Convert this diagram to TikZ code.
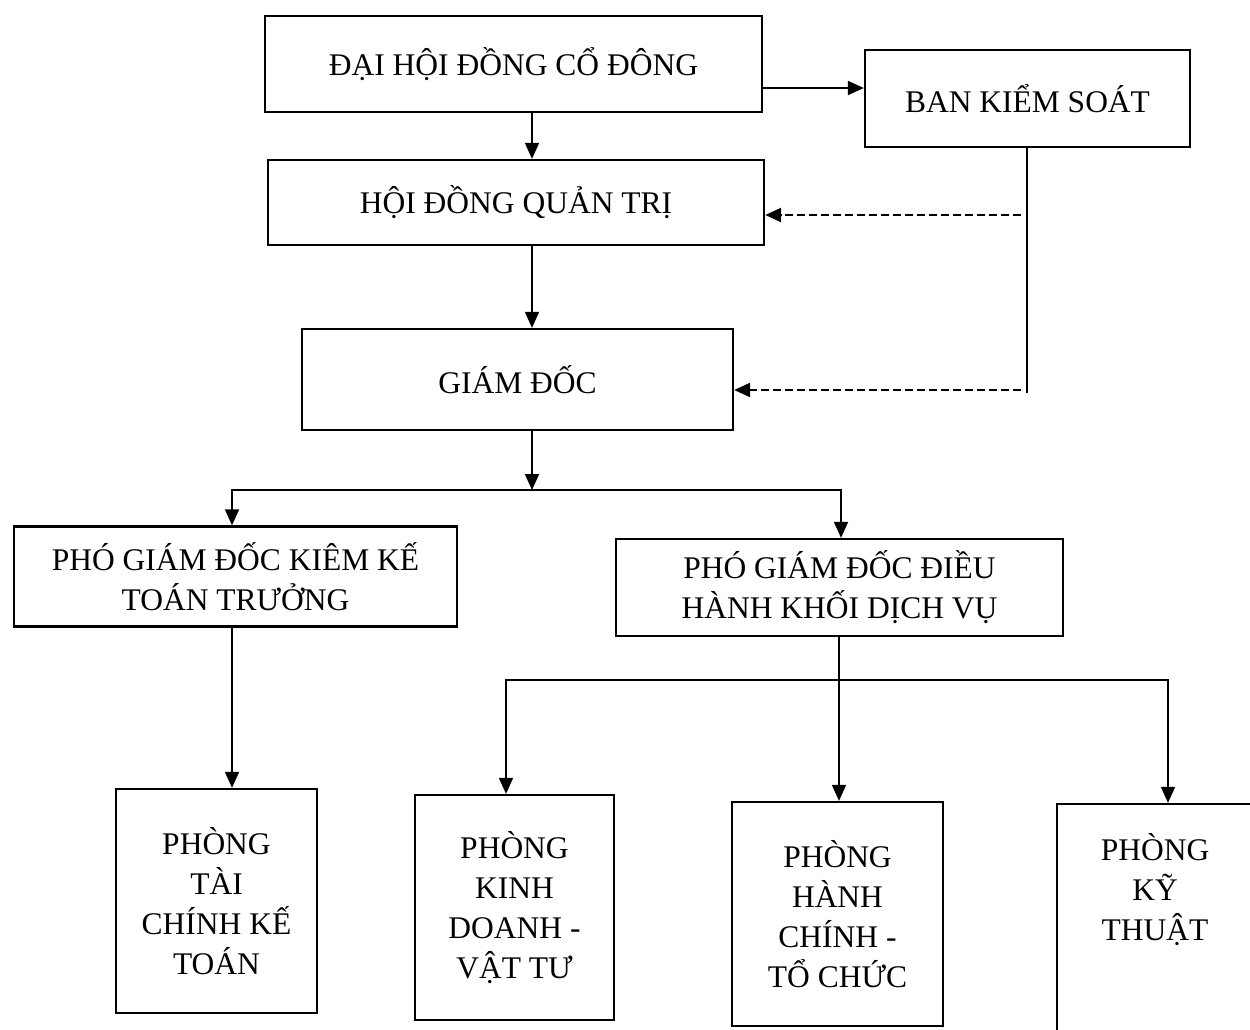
\documentclass[tikz,border=0pt]{standalone}
\usepackage{fontspec}
\setmainfont{Liberation Serif}
\usetikzlibrary{arrows.meta}
\begin{document}
\begin{tikzpicture}[x=1pt,y=-1pt,
  box/.style={draw, line width=2.3pt, rectangle, align=center, inner sep=0pt,
              font=\fontsize{31.5}{40}\selectfont},
  txt/.style={align=center, inner sep=0pt, font=\fontsize{31.5}{40}\selectfont},
  arr/.style={line width=1.8pt, -{Triangle[length=16pt,width=14pt]}},
  dsh/.style={line width=2.4pt, dash pattern=on 8pt off 4pt, -{Triangle[length=16pt,width=14pt]}},
  ln/.style={line width=1.8pt, line cap=rect}]
\useasboundingbox (0,0) rectangle (1250,1029);
\fill[white] (0,0) rectangle (1250,1029);

% boxes
\node[box, minimum width=497pt, minimum height=96pt] (dh) at (513.5,64) {\raisebox{-4pt}{ĐẠI HỘI ĐỒNG CỔ ĐÔNG}};
\node[box, minimum width=325pt, minimum height=97pt] (bks) at (1027.5,98.5) {BAN KIỂM SOÁT};
\node[box, minimum width=496pt, minimum height=85pt] (hd) at (516,202.5) {\raisebox{-4pt}{HỘI ĐỒNG QUẢN TRỊ}};
\node[box, minimum width=431pt, minimum height=101pt] (gd) at (517.5,379.5) {GIÁM ĐỐC};
\node[box, minimum width=443pt, minimum height=100pt] (p1) at (235.5,576.5) {PHÓ GIÁM ĐỐC KIÊM KẾ\\TOÁN TRƯỞNG};
\node[box, minimum width=447pt, minimum height=97pt] (p2) at (839.5,587.5) {PHÓ GIÁM ĐỐC ĐIỀU\\HÀNH KHỐI DỊCH VỤ};
\node[box, minimum width=201pt, minimum height=224pt] (r1) at (216.5,901) {PHÒNG\\TÀI\\CHÍNH KẾ\\TOÁN};
\node[box, minimum width=199pt, minimum height=225pt] (r2) at (514.5,907.5) {PHÒNG\\KINH\\DOANH -\\VẬT TƯ};
\node[box, minimum width=211pt, minimum height=224pt] (r3) at (837.5,914) {PHÒNG\\HÀNH\\CHÍNH -\\TỔ CHỨC};
\node[box, minimum width=196pt, minimum height=241pt] (r4) at (1155,924.5) {};
\node[txt] (r4t) at (1155,890) {PHÒNG\\KỸ\\THUẬT};

% coordinates
\coordinate (xa) at (532,0);
\coordinate (ya) at (0,88);
\coordinate (bk) at (1027,392);
\coordinate (d1) at (1021,215);
\coordinate (d2) at (1021,390);
\coordinate (j1) at (532,490);
\coordinate (xl) at (232,0);
\coordinate (xr) at (841,0);
\coordinate (xm) at (839,0);
\coordinate (j2) at (0,680);
\coordinate (xk) at (506,0);
\coordinate (xt) at (1168,0);

% connectors
\draw[arr] (dh.east |- ya) -- (bks.west |- ya);
\draw[arr] (dh.south -| xa) -- (hd.north -| xa);
\draw[arr] (hd.south -| xa) -- (gd.north -| xa);
\draw[ln] (bks.south -| bk) -- (bk);
\draw[dsh] (d1) -- (hd.east |- d1);
\draw[dsh] (d2) -- (gd.east |- d2);

\draw[arr] (gd.south -| xa) -- (j1);
\draw[ln] (xl |- j1) -- (xr |- j1);
\draw[arr] (xl |- j1) -- (p1.north -| xl);
\draw[arr] (xr |- j1) -- (p2.north -| xr);

\draw[arr] (p1.south -| xl) -- (r1.north -| xl);
\draw[arr] (p2.south -| xm) -- (r3.north -| xm);
\draw[ln] (xk |- j2) -- (xt |- j2);
\draw[arr] (xk |- j2) -- (r2.north -| xk);
\draw[arr] (xt |- j2) -- (r4.north -| xt);
\end{tikzpicture}
\end{document}
